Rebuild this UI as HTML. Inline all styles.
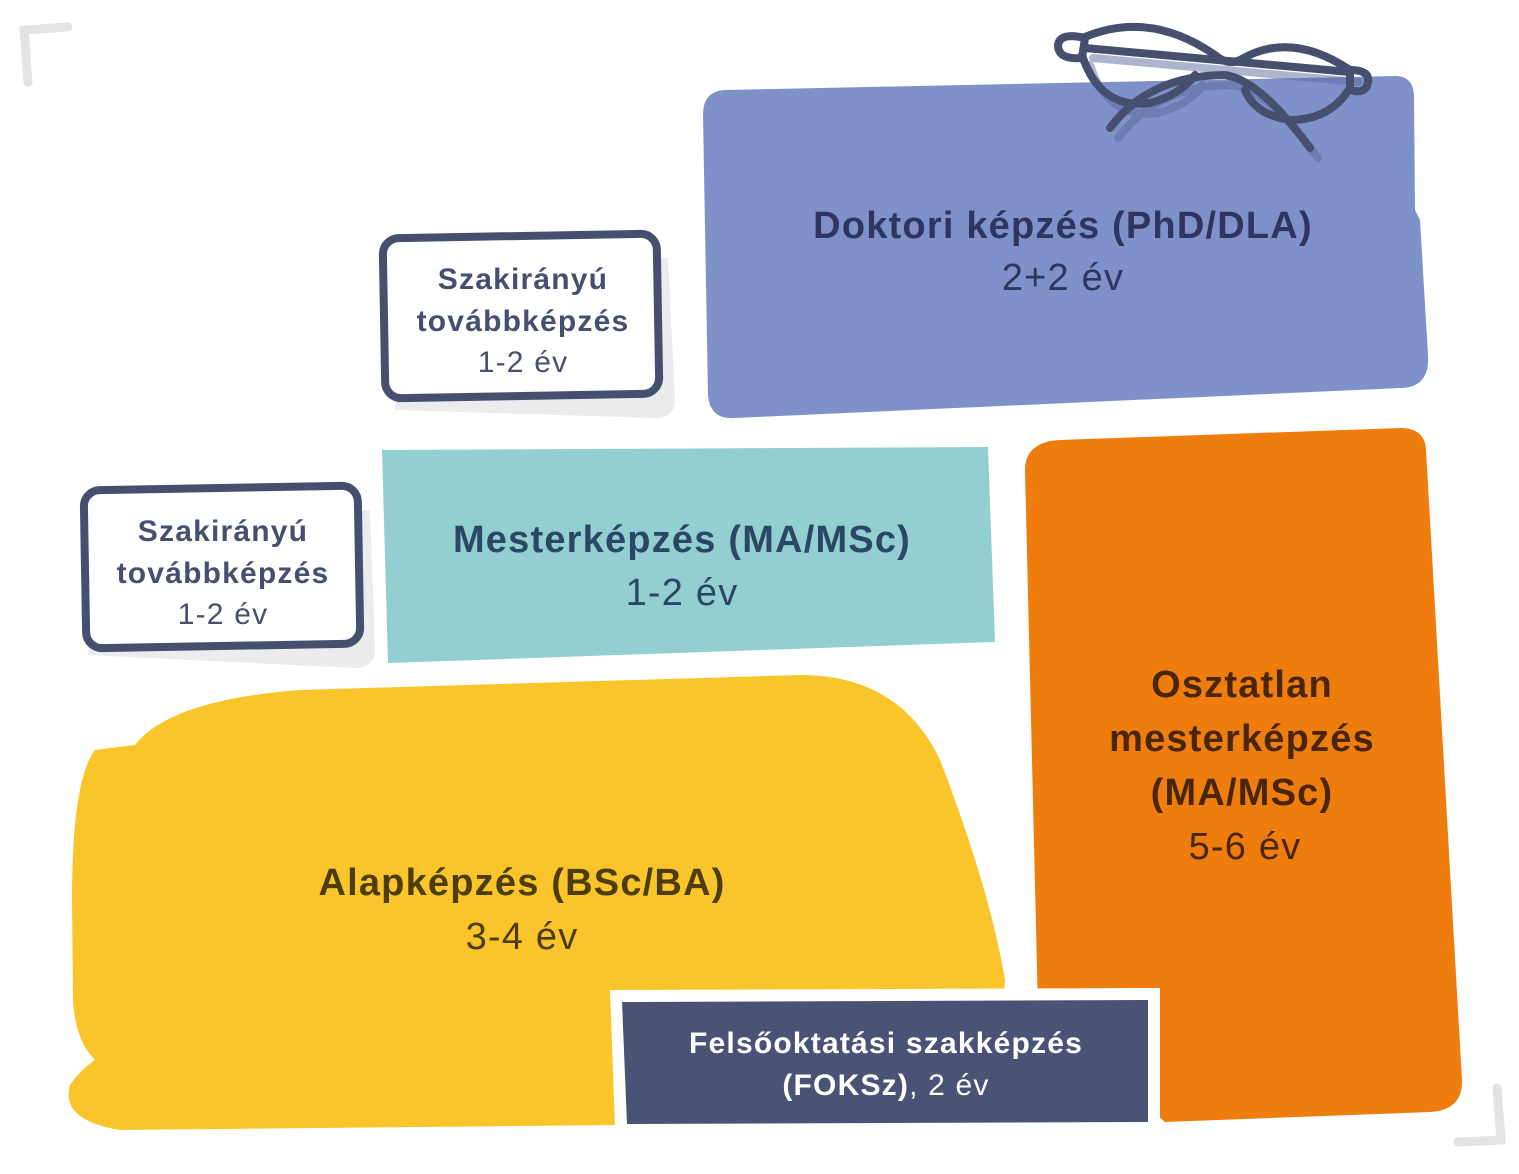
<!DOCTYPE html>
<html><head><meta charset="utf-8"><style>
html,body{margin:0;padding:0;background:#fff;}
svg{display:block;}
text{font-family:"Liberation Sans",sans-serif;text-anchor:middle;letter-spacing:1.2px;}
</style></head><body>
<svg width="1519" height="1174" viewBox="0 0 1519 1174" xmlns="http://www.w3.org/2000/svg">
<path d="M28 82 L24 30 L68 27" fill="none" stroke="#e3e3e6" stroke-width="9" stroke-linecap="round"/>
<path d="M1497 1088 L1501 1140 L1458 1142" fill="none" stroke="#e3e3e6" stroke-width="9" stroke-linecap="round"/>

<path d="M725 90 L1395 76 Q1413 76 1414 95 L1415 210 L1420 220 L1428 355 Q1430 388 1400 388 L735 418 Q710 420 708 395 L703 115 Q703 91 725 90 Z" fill="#7f91c9"/>
<g fill="none" stroke-linecap="round" stroke-width="8">
<g stroke="#5d6b9e" opacity="0.5" transform="translate(8,10)">
<path d="M1085 48 L1350 72"/>
<path d="M1082 55 Q1100 110 1150 103 Q1180 95 1195 75"/>
<path d="M1110 128 Q1150 75 1225 75 Q1260 80 1310 148"/>
</g>
<path d="M1085 37 Q1150 10 1215 55 Q1228 66 1240 60 Q1290 30 1350 70" stroke="#474f6e"/>
<path d="M1085 48 L1350 72" stroke="#474f6e"/>
<path d="M1082 55 Q1100 110 1150 103 Q1180 95 1195 75" stroke="#474f6e"/>
<path d="M1350 88 Q1330 120 1290 120 Q1255 115 1245 90" stroke="#474f6e"/>
<path d="M1110 128 Q1150 75 1225 75 Q1260 80 1310 148" stroke="#474f6e"/>
<path d="M1085 38 Q1060 32 1058 45 Q1058 60 1082 58 Z" stroke="#474f6e"/>
<path d="M1350 70 Q1370 70 1368 82 Q1366 95 1350 90 Z" stroke="#474f6e"/>
</g>
<text x="1063" y="238" font-size="38" font-weight="bold" fill="#2e3560">Doktori képzés (PhD/DLA)</text>
<text x="1063" y="290" font-size="38" fill="#2e3560">2+2 év</text>

<path d="M395 260 L668 258 L675 400 Q675 418 655 418 L395 410 Z" fill="#ececef"/>
<rect x="384" y="236" width="274" height="160" rx="16" fill="#fff" stroke="#474f6e" stroke-width="8" transform="rotate(-1 520 316)"/>
<text x="523" y="289" font-size="30" font-weight="bold" fill="#474f6e">Szakirányú</text>
<text x="523" y="331" font-size="30" font-weight="bold" fill="#474f6e">továbbképzés</text>
<text x="523" y="372" font-size="30" fill="#474f6e">1-2 év</text>

<path d="M382 450 L988 447 L995 642 L388 663 Z" fill="#93cfd0"/>
<text x="682" y="552" font-size="38" font-weight="bold" fill="#2b4766">Mesterképzés (MA/MSc)</text>
<text x="682" y="605" font-size="38" fill="#2b4766">1-2 év</text>

<path d="M95 510 L370 510 L375 650 Q375 668 355 668 L88 655 Z" fill="#ececef"/>
<rect x="85" y="488" width="274" height="158" rx="16" fill="#fff" stroke="#474f6e" stroke-width="8" transform="rotate(-1 222 567)"/>
<text x="223" y="541" font-size="30" font-weight="bold" fill="#474f6e">Szakirányú</text>
<text x="223" y="583" font-size="30" font-weight="bold" fill="#474f6e">továbbképzés</text>
<text x="223" y="624" font-size="30" fill="#474f6e">1-2 év</text>

<path d="M1060 440 L1400 428 Q1425 428 1426 450 L1462 1080 Q1463 1110 1430 1112 L1165 1122 L1038 1010 L1025 470 Q1025 442 1060 440 Z" fill="#ef7d0e"/>
<text x="1242" y="697" font-size="38" font-weight="bold" fill="#4a2608">Osztatlan</text>
<text x="1242" y="751" font-size="38" font-weight="bold" fill="#4a2608">mesterképzés</text>
<text x="1242" y="805" font-size="38" font-weight="bold" fill="#4a2608">(MA/MSc)</text>
<text x="1245" y="859" font-size="38" fill="#4a2608">5-6 év</text>

<path d="M135 745 Q170 700 300 690 L800 675 Q900 675 940 760 Q990 890 1005 980 L1003 1005 L615 1125 L120 1130 Q60 1120 70 1085 Q80 1070 95 1060 Q75 1040 73 1000 L72 900 Q72 780 95 750 Z" fill="#f9c52a"/>
<text x="522" y="895" font-size="38" font-weight="bold" fill="#4d3d0c">Alapképzés (BSc/BA)</text>
<text x="522" y="949" font-size="38" fill="#4d3d0c">3-4 év</text>

<path d="M610 990 L1160 988 L1160 1125 L615 1127 Z" fill="#fff"/>
<path d="M622 1002 L1148 1000 L1148 1122 L627 1124 Z" fill="#4a5275"/>
<text x="886" y="1053" font-size="30" font-weight="bold" fill="#fff">Felsőoktatási szakképzés</text>
<text x="886" y="1095" font-size="30" fill="#fff"><tspan font-weight="bold">(FOKSz)</tspan>, 2 év</text>
</svg>
</body></html>
